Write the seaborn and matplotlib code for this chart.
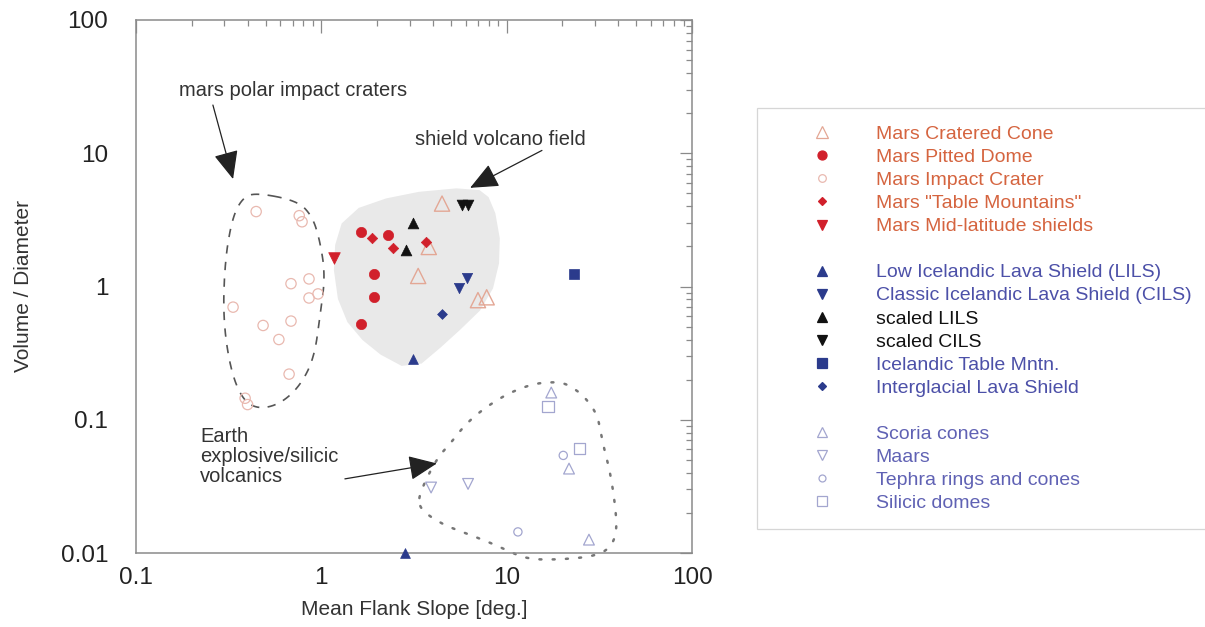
import numpy as np
import matplotlib
matplotlib.use("Agg")
import matplotlib.pyplot as plt
from matplotlib.lines import Line2D
from matplotlib.ticker import FixedLocator, LogLocator, NullFormatter, FuncFormatter
import seaborn as sns

# ---------------- data (Mean flank slope [deg], Volume/Diameter) ----------------
cratered_cone_x = [4.48, 3.8, 3.33, 7.0, 7.8]
cratered_cone_y = [4.19, 1.98, 1.2, 0.79, 0.83]
pitted_dome_x = [1.64, 2.29, 1.92, 1.92, 1.64]
pitted_dome_y = [2.58, 2.45, 1.24, 0.835, 0.52]
impact_crater_x = [0.445, 0.787, 0.76, 0.858, 0.686, 0.858, 0.96, 0.334, 0.485, 0.686, 0.59, 0.67, 0.388, 0.40]
impact_crater_y = [3.65, 3.06, 3.4, 1.14, 1.05, 0.82, 0.88, 0.70, 0.51, 0.55, 0.40, 0.22, 0.145, 0.13]
table_mtn_x = [1.88, 2.44, 3.67]
table_mtn_y = [2.32, 1.95, 2.17]
midlat_x = [1.17]
midlat_y = [1.64]
lils_x = [3.13, 2.83]
lils_y = [0.285, 0.01]
cils_x = [6.11, 5.53]
cils_y = [1.16, 0.98]
scaled_lils_x = [3.13, 2.86]
scaled_lils_y = [3.0, 1.89]
scaled_cils_x = [5.74, 6.2]
scaled_cils_y = [4.1, 4.1]
ice_table_x = [23.1]
ice_table_y = [1.24]
interglacial_x = [4.48]
interglacial_y = [0.62]
scoria_x = [17.4, 21.7, 27.8]
scoria_y = [0.16, 0.043, 0.0126]
maars_x = [3.91, 6.19]
maars_y = [0.031, 0.033]
tephra_x = [20.2, 11.5]
tephra_y = [0.054, 0.0144]
silicic_x = [16.7, 24.6]
silicic_y = [0.126, 0.061]

# region outlines (data coordinates)
shield_field_x = [1.14, 1.34, 2.66, 6.75, 8.45, 9.44, 8.13, 4.95, 3.09, 1.83, 1.26]
shield_field_y = [1.70, 3.58, 4.98, 5.62, 4.41, 1.85, 0.78, 0.40, 0.23, 0.34, 0.63]
polar_x = [0.439, 0.739, 0.891, 0.984, 1.05, 0.984, 0.914, 0.767, 0.598, 0.455, 0.373, 0.322, 0.295, 0.302, 0.33, 0.373]
polar_y = [5.07, 4.41, 3.40, 2.20, 1.20, 0.60, 0.29, 0.179, 0.131, 0.120, 0.143, 0.244, 0.58, 1.56, 3.23, 4.57]
explosive_x = [3.33, 3.54, 4.54, 6.34, 8.45, 9.8, 12.9, 18.7, 29.3, 36.1, 39.4, 38.5, 36.1, 33.1, 31.1, 27.5,
               24.3, 20.2, 16.5, 13.9, 11.5, 9.57, 7.46, 5.97, 4.95, 4.37, 3.86, 3.49]
explosive_y = [0.0243, 0.0204, 0.0163, 0.0137, 0.0117, 0.0106, 0.0090, 0.0089, 0.0094, 0.0108, 0.0144, 0.0231,
               0.041, 0.0653, 0.106, 0.138, 0.164, 0.191, 0.191, 0.185, 0.169, 0.150, 0.120, 0.092, 0.066,
               0.0548, 0.041, 0.0304]

x_ticks = [0.1, 1, 10, 100]
y_ticks = [0.01, 0.1, 1, 10, 100]

# ---------------- colours ----------------
MARS_RED = "#d1202b"
MARS_OPEN = "#e3a795"
MARS_CRATER = "#e9b9b0"
MARS_TXT = "#d5643f"
ICE_BLUE = "#2b3b8c"
ICE_TXT = "#4c50a8"
EARTH_MK = "#a3a6cf"
EARTH_TXT = "#6062b4"
BLACK = "#111111"

sns.set_theme(style="white")
plt.rcParams['font.family'] = ['Liberation Sans', 'DejaVu Sans']

W, H = 1205, 627
fig = plt.figure(figsize=(W / 100, H / 100), dpi=100)
ax = fig.add_axes([136 / W, 1 - 553 / H, (692 - 136) / W, (553 - 20) / H])
ax.set_xscale('log')
ax.set_yscale('log')
ax.set_xlim(0.1, 100)
ax.set_ylim(0.01, 100)


def chaikin(xs, ys, n=3):
    p = np.column_stack([np.log10(xs), np.log10(ys)])
    for _ in range(n):
        q = np.roll(p, -1, axis=0)
        p = np.column_stack([0.75 * p + 0.25 * q, 0.25 * p + 0.75 * q]).reshape(-1, 2)
    p = np.vstack([p, p[:1]])
    return 10 ** p[:, 0], 10 ** p[:, 1]


# shaded shield-volcano field
fx, fy = chaikin(shield_field_x, shield_field_y, 1)
ax.fill(fx, fy, color="#e9e9e9", lw=0, zorder=1)
# polar craters outline
px, py = chaikin(polar_x, polar_y, 3)
ax.plot(px, py, color="#555555", lw=1.2, ls=(0, (5, 5)), zorder=2)
# explosive / silicic outline
ex, ey = chaikin(explosive_x, explosive_y, 3)
ax.plot(ex, ey, color="#777777", lw=1.8, ls=(0, (0.8, 4.5)), zorder=2, clip_on=False,
        solid_capstyle='round', dash_capstyle='round')

# ---------------- scatter series ----------------
series = [
    (cratered_cone_x, cratered_cone_y, '^', 120, 'none', MARS_OPEN, 1.0),
    (impact_crater_x, impact_crater_y, 'o', 55, 'none', MARS_CRATER, 0.9),
    (pitted_dome_x, pitted_dome_y, 'o', 55, MARS_RED, MARS_RED, 0.5),
    (table_mtn_x, table_mtn_y, 'D', 28, MARS_RED, MARS_RED, 0.5),
    (midlat_x, midlat_y, 'v', 70, MARS_RED, MARS_RED, 0.5),
    (lils_x, lils_y, '^', 50, ICE_BLUE, ICE_BLUE, 0.5),
    (cils_x, cils_y, 'v', 55, ICE_BLUE, ICE_BLUE, 0.5),
    (scaled_lils_x, scaled_lils_y, '^', 60, BLACK, BLACK, 0.5),
    (scaled_cils_x, scaled_cils_y, 'v', 60, BLACK, BLACK, 0.5),
    (ice_table_x, ice_table_y, 's', 55, ICE_BLUE, ICE_BLUE, 0.5),
    (interglacial_x, interglacial_y, 'D', 25, ICE_BLUE, ICE_BLUE, 0.5),
    (scoria_x, scoria_y, '^', 60, 'none', EARTH_MK, 0.9),
    (maars_x, maars_y, 'v', 60, 'none', EARTH_MK, 0.9),
    (tephra_x, tephra_y, 'o', 35, 'none', EARTH_MK, 0.9),
    (silicic_x, silicic_y, 's', 65, 'none', EARTH_MK, 0.9),
]
for xs, ys, mk, s, fc, ec, lw in series:
    sns.scatterplot(x=xs, y=ys, marker=mk, s=s, color=ec, facecolor=fc, edgecolor=ec,
                    linewidth=lw, ax=ax, zorder=4, clip_on=False, legend=False)

# ---------------- annotations ----------------
txt_kw = dict(fontsize=14.5, color="#333333")
arrow_kw = dict(arrowstyle="-|>,head_length=0.8,head_width=0.35", color="#222222", lw=0.9,
                shrinkA=0, shrinkB=0, mutation_scale=22)
ax.text(0.70, 29.5, "mars polar impact craters", ha='center', va='center', **txt_kw)
ax.annotate("", xy=(0.334, 6.4), xytext=(0.26, 23.0), arrowprops=arrow_kw)
ax.text(9.3, 12.6, "shield volcano field", ha='center', va='center', **txt_kw)
ax.annotate("", xy=(6.35, 5.5), xytext=(15.5, 10.5), arrowprops=arrow_kw)
ax.text(0.222, 0.053, "Earth\nexplosive/silicic\nvolcanics", ha='left', va='center',
        linespacing=1.05, **txt_kw)
ax.annotate("", xy=(4.2, 0.047), xytext=(1.34, 0.036), arrowprops=arrow_kw)

# ---------------- axes styling ----------------
ax.xaxis.set_major_locator(FixedLocator(x_ticks))
ax.yaxis.set_major_locator(FixedLocator(y_ticks))
fmt = FuncFormatter(lambda v, p: f"{v:g}")
ax.xaxis.set_major_formatter(fmt)
ax.yaxis.set_major_formatter(fmt)
ax.xaxis.set_minor_locator(LogLocator(base=10, subs=np.arange(2, 10)))
ax.yaxis.set_minor_locator(LogLocator(base=10, subs=np.arange(2, 10)))
ax.xaxis.set_minor_formatter(NullFormatter())
ax.yaxis.set_minor_formatter(NullFormatter())
ax.tick_params(which='both', direction='in', top=True, right=True, color="#8a8a8a", width=0.9)
ax.tick_params(which='major', length=9, labelsize=17.5, labelcolor="#222222")
ax.tick_params(axis='y', which='major', pad=20)
ax.tick_params(axis='x', which='major', pad=10)
ax.tick_params(which='minor', length=4.5)
for sp in ax.spines.values():
    sp.set_color("#8a8a8a")
    sp.set_linewidth(1.1)
ax.set_xlabel("Mean Flank Slope [deg.]", fontsize=15, color="#333333", labelpad=8)
ax.set_ylabel("Volume / Diameter", fontsize=15, color="#333333", labelpad=20)

# ---------------- legend ----------------
def h(mk, fc, ec, ms, mew=0.9):
    return Line2D([0], [0], marker=mk, linestyle='none', markerfacecolor=fc,
                  markeredgecolor=ec, markersize=ms, markeredgewidth=mew)

blank = Line2D([], [], linestyle='none')
handles = [
    h('^', 'none', MARS_OPEN, 8), h('o', MARS_RED, MARS_RED, 6.5), h('o', 'none', MARS_CRATER, 5.5),
    h('D', MARS_RED, MARS_RED, 4.5), h('v', MARS_RED, MARS_RED, 6.5),
    blank,
    h('^', ICE_BLUE, ICE_BLUE, 6.5), h('v', ICE_BLUE, ICE_BLUE, 6.5), h('^', BLACK, BLACK, 6.5),
    h('v', BLACK, BLACK, 6.5), h('s', ICE_BLUE, ICE_BLUE, 6.5), h('D', ICE_BLUE, ICE_BLUE, 4.5),
    blank,
    h('^', 'none', EARTH_MK, 6.5), h('v', 'none', EARTH_MK, 6.5), h('o', 'none', EARTH_MK, 5),
    h('s', 'none', EARTH_MK, 6.5),
]
labels = ["Mars Cratered Cone", "Mars Pitted Dome", "Mars Impact Crater", 'Mars "Table Mountains"',
          "Mars Mid-latitude shields", " ",
          "Low Icelandic Lava Shield (LILS)", "Classic Icelandic Lava Shield (CILS)", "scaled LILS",
          "scaled CILS", "Icelandic Table Mntn.", "Interglacial Lava Shield", " ",
          "Scoria cones", "Maars", "Tephra rings and cones", "Silicic domes"]
text_colors = [MARS_TXT] * 5 + ["k"] + [ICE_TXT, ICE_TXT, BLACK, BLACK, ICE_TXT, ICE_TXT] + ["k"] + [EARTH_TXT] * 4

leg = fig.legend(handles, labels, loc='upper left',
                 bbox_to_anchor=(757 / W, 1 - 108 / H, 470 / W, 0.0), mode='expand',
                 bbox_transform=fig.transFigure, fontsize=14, frameon=True, fancybox=False,
                 edgecolor="#cccccc", borderpad=0.9, handlelength=4.9, handletextpad=0.3,
                 labelspacing=0.28, borderaxespad=0, numpoints=1)
leg.get_frame().set_linewidth(0.9)
for t, c in zip(leg.get_texts(), text_colors):
    t.set_color(c)

fig.savefig("out.png", dpi=100, facecolor="white")
